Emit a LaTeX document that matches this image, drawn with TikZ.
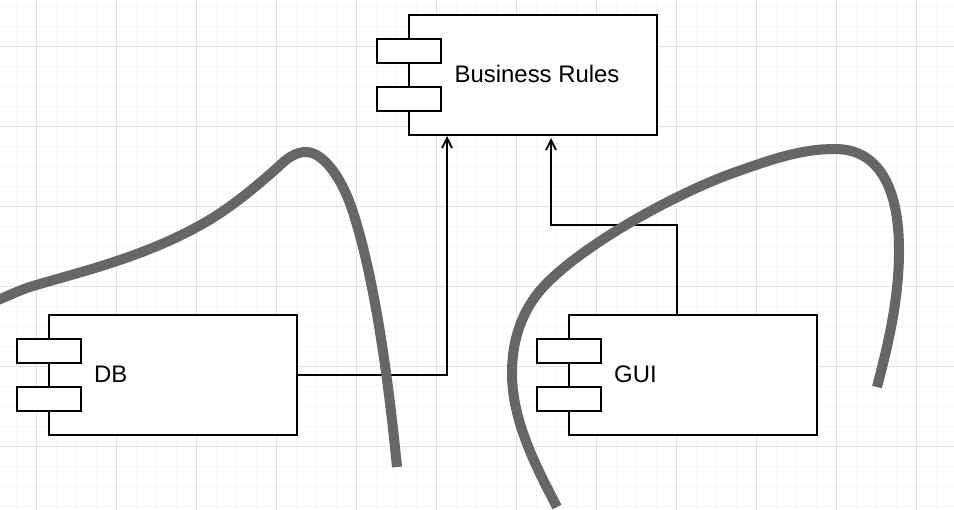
\documentclass[tikz,border=0pt]{standalone}
\usepackage{fontspec}
\setmainfont{Liberation Sans}
\usetikzlibrary{arrows.meta}
\definecolor{gridminor}{HTML}{F7F7F7}
\definecolor{gridmajor}{HTML}{E2E2E2}
\definecolor{sketchgray}{HTML}{666666}
\tikzset{
  x=1pt,y=-1pt,
  compbox/.style={draw=black,fill=white,line width=2pt,outer sep=0pt,minimum width=248pt,minimum height=120pt,inner sep=0pt,anchor=north west},
  portbox/.style={draw=black,fill=white,line width=2pt,outer sep=0pt,minimum width=64pt,minimum height=24pt,inner sep=0pt},
  complabel/.style={font=\fontsize{23.9pt}{28pt}\selectfont,anchor=base west,inner sep=0pt},
  conn/.style={draw=black,line width=2pt,-{Straight Barb[length=10pt,width=10pt,line width=1.8pt]}},
  sketch/.style={draw=sketchgray,line width=10pt,line join=round},
  gridlo/.style={draw=gridminor,line width=1pt},
  gridhi/.style={draw=gridmajor,line width=1pt},
}
\begin{document}
\begin{tikzpicture}
\useasboundingbox (0,0) rectangle (954,510);
\fill[white] (0,0) rectangle (954,510);
% grid
\foreach \gx in {16.5,36.5,...,957} {\draw[gridlo] (\gx,0) -- (\gx,510);}
\foreach \gy in {6.5,26.5,...,507} {\draw[gridlo] (0,\gy) -- (954,\gy);}
\foreach \gx in {36.5,116.5,...,917} {\draw[gridhi] (\gx,0) -- (\gx,510);}
\foreach \gy in {46.5,126.5,...,447} {\draw[gridhi] (0,\gy) -- (954,\gy);}
% components
\node[compbox] (br) at (409,15) {};
\node[portbox] (brp1) at (409,51) {};
\node[portbox] (brp2) at (409,99) {};
\node[complabel] (brt) at (454.5,82.5) {Business Rules};
\node[compbox] (db) at (49,315) {};
\node[portbox] (dbp1) at (49,351) {};
\node[portbox] (dbp2) at (49,399) {};
\node[complabel] (dbt) at (94,382.5) {DB};
\node[compbox] (gui) at (569,315) {};
\node[portbox] (guip1) at (569,351) {};
\node[portbox] (guip2) at (569,399) {};
\node[complabel] (guit) at (614,382.5) {GUI};
% connectors
\coordinate (brina) at (447,136);
\coordinate (brinb) at (551,138);
\coordinate (guiout) at (677,315);
\coordinate (guibend) at (677,225);
\draw[conn] (db.east) -| (brina);
\draw[conn] (guiout) -- (guibend) -| (brinb);
% sketched curves
\draw[sketch] (-2,300) .. controls (10,295) and (20,290) .. (33,286)
  .. controls (80,272) and (140,258) .. (197,227)
  .. controls (225,212) and (250,192) .. (277,168)
  .. controls (287,158) and (296,152) .. (306,152)
  .. controls (322,152) and (341,175) .. (353,212)
  .. controls (370,265) and (385,345) .. (397,467);
\draw[sketch] (557,507) .. controls (535,465) and (512,420) .. (512,373)
  .. controls (512,335) and (525,305) .. (547,283)
  .. controls (590,240) and (680,192) .. (733,173)
  .. controls (770,160) and (800,149) .. (835,149)
  .. controls (880,149) and (899,190) .. (899,250)
  .. controls (899,300) and (888,345) .. (877,387);
\end{tikzpicture}
\end{document}
